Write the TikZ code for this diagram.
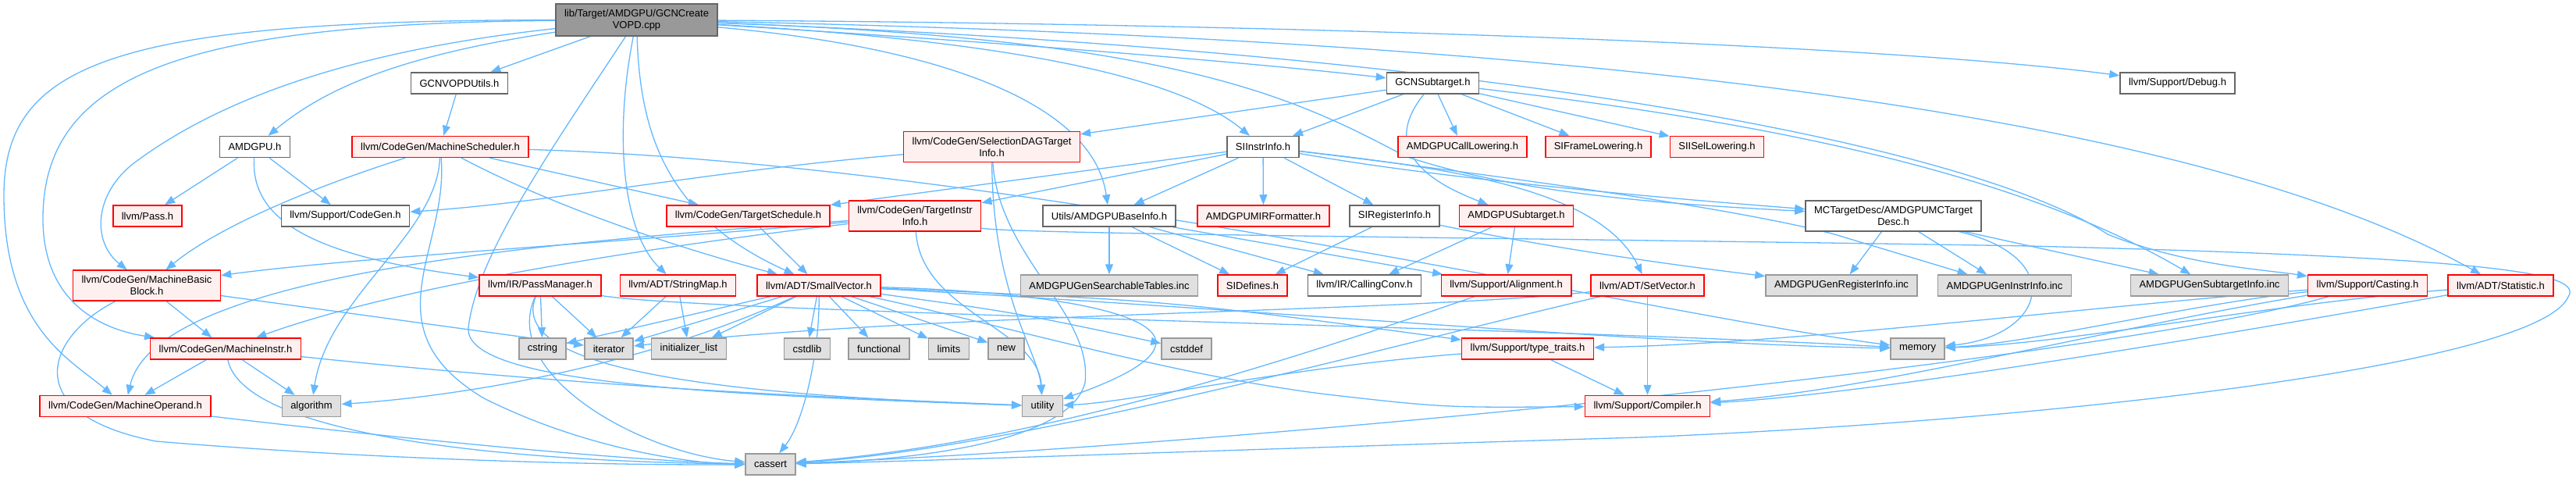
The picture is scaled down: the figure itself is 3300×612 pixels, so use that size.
\documentclass[tikz,border=0pt]{standalone}
\usepackage{fontspec}
\setmainfont{Liberation Sans}
\usepackage{tikz}
\usetikzlibrary{arrows.meta,backgrounds}
\definecolor{cedge}{HTML}{63B8FF}
\definecolor{cred}{HTML}{FF0000}
\definecolor{credfill}{HTML}{FFF0F0}
\definecolor{cgrisl}{HTML}{999999}
\definecolor{cgrisf}{HTML}{E0E0E0}
\definecolor{cdark}{HTML}{666666}
\tikzset{
  hdr/.style={rectangle, font=\fontsize{13}{15}\selectfont, align=center,
    inner xsep=11pt, inner ysep=7pt, minimum height=27pt, line width=1.5pt},
  hmain/.style={hdr, draw=cdark, fill=cgrisl},
  hplain/.style={hdr, draw=cdark, fill=white},
  htrunc/.style={hdr, draw=cred, fill=credfill},
  hsys/.style={hdr, draw=cgrisl, fill=cgrisf},
  inc/.style={-{Triangle[length=13pt,width=10pt]}, line width=1.3pt, draw=cedge},
}

\begin{document}
\begin{tikzpicture}[x=1pt,y=-1pt]
  \useasboundingbox (0,0) rectangle (3300,612);
  % rank 0 - 2
  \node[hmain] (main) at (815.5,25.5) {lib/Target/AMDGPU/GCNCreate\\VOPD.cpp};
  \node[hplain] (vopd) at (588.5,106.5) {GCNVOPDUtils.h};
  \node[hplain] (gcnsub) at (1835.5,106.5) {GCNSubtarget.h};
  \node[hplain] (debug) at (2789.5,106.5) {llvm/Support/Debug.h};
  \node[hplain] (amdgpu) at (326.5,188) {AMDGPU.h};
  \node[htrunc] (msched) at (564,188) {llvm/CodeGen/MachineScheduler.h};
  \node[htrunc] (seldag) at (1270.5,188) {llvm/CodeGen/SelectionDAGTarget\\Info.h};
  \node[hplain] (siinstr) at (1618,188) {SIInstrInfo.h};
  \node[htrunc] (calllow) at (1873.5,188) {AMDGPUCallLowering.h};
  \node[htrunc] (framelow) at (2047.5,188) {SIFrameLowering.h};
  \node[htrunc] (isellow) at (2199.5,188) {SIISelLowering.h};
  % rank 3
  \node[htrunc] (pass) at (189,276.5) {llvm/Pass.h};
  \node[hplain] (cgen) at (442.5,276.5) {llvm/Support/CodeGen.h};
  \node[htrunc] (tsched) at (958.5,276.5) {llvm/CodeGen/TargetSchedule.h};
  \node[htrunc] (tinstr) at (1172,276.5) {llvm/CodeGen/TargetInstr\\Info.h};
  \node[hplain] (baseinfo) at (1421,276.5) {Utils/AMDGPUBaseInfo.h};
  \node[htrunc] (mirfmt) at (1618.5,276.5) {AMDGPUMIRFormatter.h};
  \node[hplain] (sireg) at (1786.5,276.5) {SIRegisterInfo.h};
  \node[htrunc] (amdsub) at (1942.5,276.5) {AMDGPUSubtarget.h};
  \node[hplain] (mctd) at (2425.5,276.5) {MCTargetDesc/AMDGPUMCTarget\\Desc.h};
  % rank 4
  \node[htrunc] (mbb) at (188,365.5) {llvm/CodeGen/MachineBasic\\Block.h};
  \node[htrunc] (passmgr) at (692,365.5) {llvm/IR/PassManager.h};
  \node[htrunc] (strmap) at (868.5,365.5) {llvm/ADT/StringMap.h};
  \node[htrunc] (smallvec) at (1049,365.5) {llvm/ADT/SmallVector.h};
  \node[hsys] (searchtab) at (1421,365.5) {AMDGPUGenSearchableTables.inc};
  \node[htrunc] (sidefines) at (1604.5,365.5) {SIDefines.h};
  \node[hplain] (callconv) at (1748,365.5) {llvm/IR/CallingConv.h};
  \node[htrunc] (align) at (1929.5,365.5) {llvm/Support/Alignment.h};
  \node[htrunc] (setvec) at (2110.5,365.5) {llvm/ADT/SetVector.h};
  \node[hsys] (genreg) at (2359,365.5) {AMDGPUGenRegisterInfo.inc};
  \node[hsys] (geninstr) at (2568,365.5) {AMDGPUGenInstrInfo.inc};
  \node[hsys] (gensub) at (2830.5,365.5) {AMDGPUGenSubtargetInfo.inc};
  \node[htrunc] (casting) at (3033,365.5) {llvm/Support/Casting.h};
  \node[htrunc] (statistic) at (3203.5,365.5) {llvm/ADT/Statistic.h};
  % rank 5 - 7
  \node[htrunc] (minstr) at (289,446.5) {llvm/CodeGen/MachineInstr.h};
  \node[hsys] (cstring) at (695,446.5) {cstring};
  \node[hsys] (iterator) at (780,446.5) {iterator};
  \node[hsys] (initlist) at (882.5,446.5) {initializer\_list};
  \node[hsys] (cstdlib) at (1034,446.5) {cstdlib};
  \node[hsys] (functional) at (1126,446.5) {functional};
  \node[hsys] (limits) at (1215.5,446.5) {limits};
  \node[hsys] (new) at (1289,446.5) {new};
  \node[hsys] (cstddef) at (1520,446.5) {cstddef};
  \node[htrunc] (typetraits) at (1957,446.5) {llvm/Support/type\_traits.h};
  \node[hsys] (memory) at (2456.5,446.5) {memory};
  \node[htrunc] (moperand) at (160.5,520) {llvm/CodeGen/MachineOperand.h};
  \node[hsys] (algorithm) at (399,520) {algorithm};
  \node[hsys] (utility) at (1335.5,520) {utility};
  \node[htrunc] (compiler) at (2110.5,520) {llvm/Support/Compiler.h};
  \node[hsys] (cassert) at (987,594.5) {cassert};

  \begin{scope}[on background layer]
  % from the .cpp file
  \draw[inc] (main) .. controls (150,26) and (5,80) .. (5,250) .. controls (5,420) and (90,460) .. (moperand);
  \draw[inc] (main) .. controls (250,30) and (55,90) .. (55,280) .. controls (55,380) and (120,420) .. (minstr);
  \draw[inc] (main) .. controls (400,70) and (250,150) .. (170,210) .. controls (120,250) and (118,310) .. (mbb);
  \draw[inc] (main) .. controls (520,70) and (420,110) .. (amdgpu);
  \draw[inc] (main) -- (vopd);
  \draw[inc] (main) .. controls (700,200) and (610,330) .. (600,420) .. controls (595,490) and (900,505) .. (utility);
  \draw[inc] (main) .. controls (785,180) and (800,300) .. (strmap);
  \draw[inc] (main) .. controls (820,180) and (860,280) .. (smallvec);
  \draw[inc] (main) .. controls (1200,60) and (1400,130) .. (baseinfo);
  \draw[inc] (main) .. controls (1250,50) and (1500,90) .. (siinstr);
  \draw[inc] (main) .. controls (1300,55) and (1600,80) .. (gcnsub);
  \draw[inc] (main) .. controls (1500,50) and (1650,120) .. (1800,200) .. controls (1950,250) and (2150,262) .. (mctd);
  \draw[inc] (main) .. controls (1600,30) and (2400,55) .. (debug);
  \draw[inc] (main) .. controls (2000,50) and (2800,140) .. (statistic);
  \draw[inc] (main) .. controls (2000,70) and (2550,200) .. (2700,300) .. controls (2800,340) and (2900,345) .. (casting);
  % second level
  \draw[inc] (vopd) -- (msched);
  \draw[inc] (amdgpu) -- (pass);
  \draw[inc] (amdgpu) -- (cgen);
  \draw[inc] (amdgpu) .. controls (320,290) and (420,330) .. (passmgr);
  \draw[inc] (msched) .. controls (400,240) and (280,290) .. (mbb);
  \draw[inc] (msched) .. controls (560,300) and (420,380) .. (algorithm);
  \draw[inc] (msched) .. controls (575,320) and (470,420) .. (620,510) .. controls (760,580) and (900,594) .. (cassert);
  \draw[inc] (msched) .. controls (720,270) and (880,320) .. (smallvec);
  \draw[inc] (msched) -- (tsched);
  \draw[inc] (msched) .. controls (1300,210) and (2100,400) .. (memory);
  \draw[inc] (seldag) .. controls (900,220) and (700,260) .. (cgen);
  \draw[inc] (seldag) .. controls (1272,380) and (1330,450) .. (utility);
  \draw[inc] (seldag) .. controls (1280,330) and (1400,400) .. (1390,490) .. controls (1370,570) and (1150,590) .. (cassert);
  \draw[inc] (gcnsub) -- (seldag);
  \draw[inc] (gcnsub) -- (siinstr);
  \draw[inc] (gcnsub) -- (calllow);
  \draw[inc] (gcnsub) -- (framelow);
  \draw[inc] (gcnsub) -- (isellow);
  \draw[inc] (gcnsub) .. controls (1760,200) and (1850,240) .. (amdsub);
  \draw[inc] (gcnsub) .. controls (2300,160) and (2600,230) .. (gensub);
  \draw[inc] (siinstr) -- (tsched);
  \draw[inc] (siinstr) -- (tinstr);
  \draw[inc] (siinstr) -- (baseinfo);
  \draw[inc] (siinstr) -- (mirfmt);
  \draw[inc] (siinstr) -- (sireg);
  \draw[inc] (siinstr) .. controls (1850,230) and (2150,255) .. (mctd);
  \draw[inc] (siinstr) .. controls (1850,215) and (2050,240) .. (setvec);
  \draw[inc] (siinstr) .. controls (1800,210) and (2200,260) .. (2350,300) .. controls (2450,330) .. (geninstr);
  % third level
  \draw[inc] (tsched) -- (smallvec);
  \draw[inc] (tinstr) .. controls (800,310) and (450,330) .. (mbb);
  \draw[inc] (tinstr) .. controls (800,320) and (500,370) .. (minstr);
  \draw[inc] (tinstr) .. controls (700,310) and (200,350) .. (moperand);
  \draw[inc] (tinstr) .. controls (1180,400) and (1330,420) .. (utility);
  \draw[inc] (tinstr) .. controls (1300,300) and (2000,305) .. (2600,315) .. controls (3200,330) and (3310,350) .. (3290,380) .. controls (3250,470) and (2600,540) .. (2100,560) .. controls (1600,575) and (1200,590) .. (cassert);
  \draw[inc] (baseinfo) -- (searchtab);
  \draw[inc] (baseinfo) -- (sidefines);
  \draw[inc] (baseinfo) -- (callconv);
  \draw[inc] (baseinfo) -- (align);
  \draw[inc] (sireg) -- (sidefines);
  \draw[inc] (sireg) .. controls (2000,320) and (2150,340) .. (genreg);
  \draw[inc] (amdsub) -- (callconv);
  \draw[inc] (amdsub) -- (align);
  \draw[inc] (mctd) -- (genreg);
  \draw[inc] (mctd) -- (geninstr);
  \draw[inc] (mctd) -- (gensub);
  \draw[inc] (mctd) .. controls (2650,330) and (2620,430) .. (memory);
  % fourth level
  \draw[inc] (mbb) -- (minstr);
  \draw[inc] (mbb) -- (iterator);
  \draw[inc] (mbb) .. controls (60,430) and (20,530) .. (200,565) .. controls (500,590) and (800,596) .. (cassert);
  \draw[inc] (passmgr) -- (cstring);
  \draw[inc] (passmgr) -- (iterator);
  \draw[inc] (passmgr) .. controls (640,480) and (820,580) .. (cassert);
  \draw[inc] (passmgr) .. controls (650,470) and (900,505) .. (utility);
  \draw[inc] (passmgr) .. controls (900,400) and (2000,420) .. (memory);
  \draw[inc] (strmap) -- (iterator);
  \draw[inc] (strmap) -- (initlist);
  \draw[inc] (smallvec) -- (cstring);
  \draw[inc] (smallvec) -- (iterator);
  \draw[inc] (smallvec) -- (initlist);
  \draw[inc] (smallvec) -- (cstdlib);
  \draw[inc] (smallvec) -- (functional);
  \draw[inc] (smallvec) -- (limits);
  \draw[inc] (smallvec) -- (new);
  \draw[inc] (smallvec) .. controls (1300,400) .. (cstddef);
  \draw[inc] (smallvec) .. controls (800,480) and (550,510) .. (algorithm);
  \draw[inc] (smallvec) .. controls (1050,450) and (1030,540) .. (cassert);
  \draw[inc] (smallvec) .. controls (1400,375) and (1620,420) .. (utility);
  \draw[inc] (smallvec) .. controls (1500,385) .. (typetraits);
  \draw[inc] (smallvec) .. controls (1300,420) and (1500,480) .. (1700,505) .. controls (1850,522) .. (compiler);
  \draw[inc] (smallvec) .. controls (1600,395) and (2100,440) .. (memory);
  \draw[inc] (setvec) -- (compiler);
  \draw[inc] (setvec) .. controls (1750,450) and (1300,575) .. (cassert);
  \draw[inc] (setvec) .. controls (1800,400) and (1200,400) .. (iterator);
  \draw[inc] (align) .. controls (1600,480) and (1300,570) .. (cassert);
  \draw[inc] (casting) .. controls (2700,390) and (2300,440) .. (typetraits);
  \draw[inc] (casting) .. controls (2700,420) and (2400,500) .. (compiler);
  \draw[inc] (casting) .. controls (2800,390) and (2600,440) .. (memory);
  \draw[inc] (casting) .. controls (2700,460) and (1600,570) .. (cassert);
  \draw[inc] (statistic) .. controls (2900,420) and (2400,505) .. (compiler);
  \draw[inc] (statistic) .. controls (2900,390) and (2650,440) .. (memory);
  % lower levels
  \draw[inc] (minstr) -- (moperand);
  \draw[inc] (minstr) -- (algorithm);
  \draw[inc] (minstr) .. controls (310,550) and (600,590) .. (cassert);
  \draw[inc] (minstr) .. controls (800,500) and (1100,510) .. (utility);
  \draw[inc] (moperand) .. controls (500,560) and (800,590) .. (cassert);
  \draw[inc] (typetraits) -- (compiler);
  \draw[inc] (typetraits) .. controls (1650,470) and (1450,515) .. (utility);
  \end{scope}
\end{tikzpicture}
\end{document}
